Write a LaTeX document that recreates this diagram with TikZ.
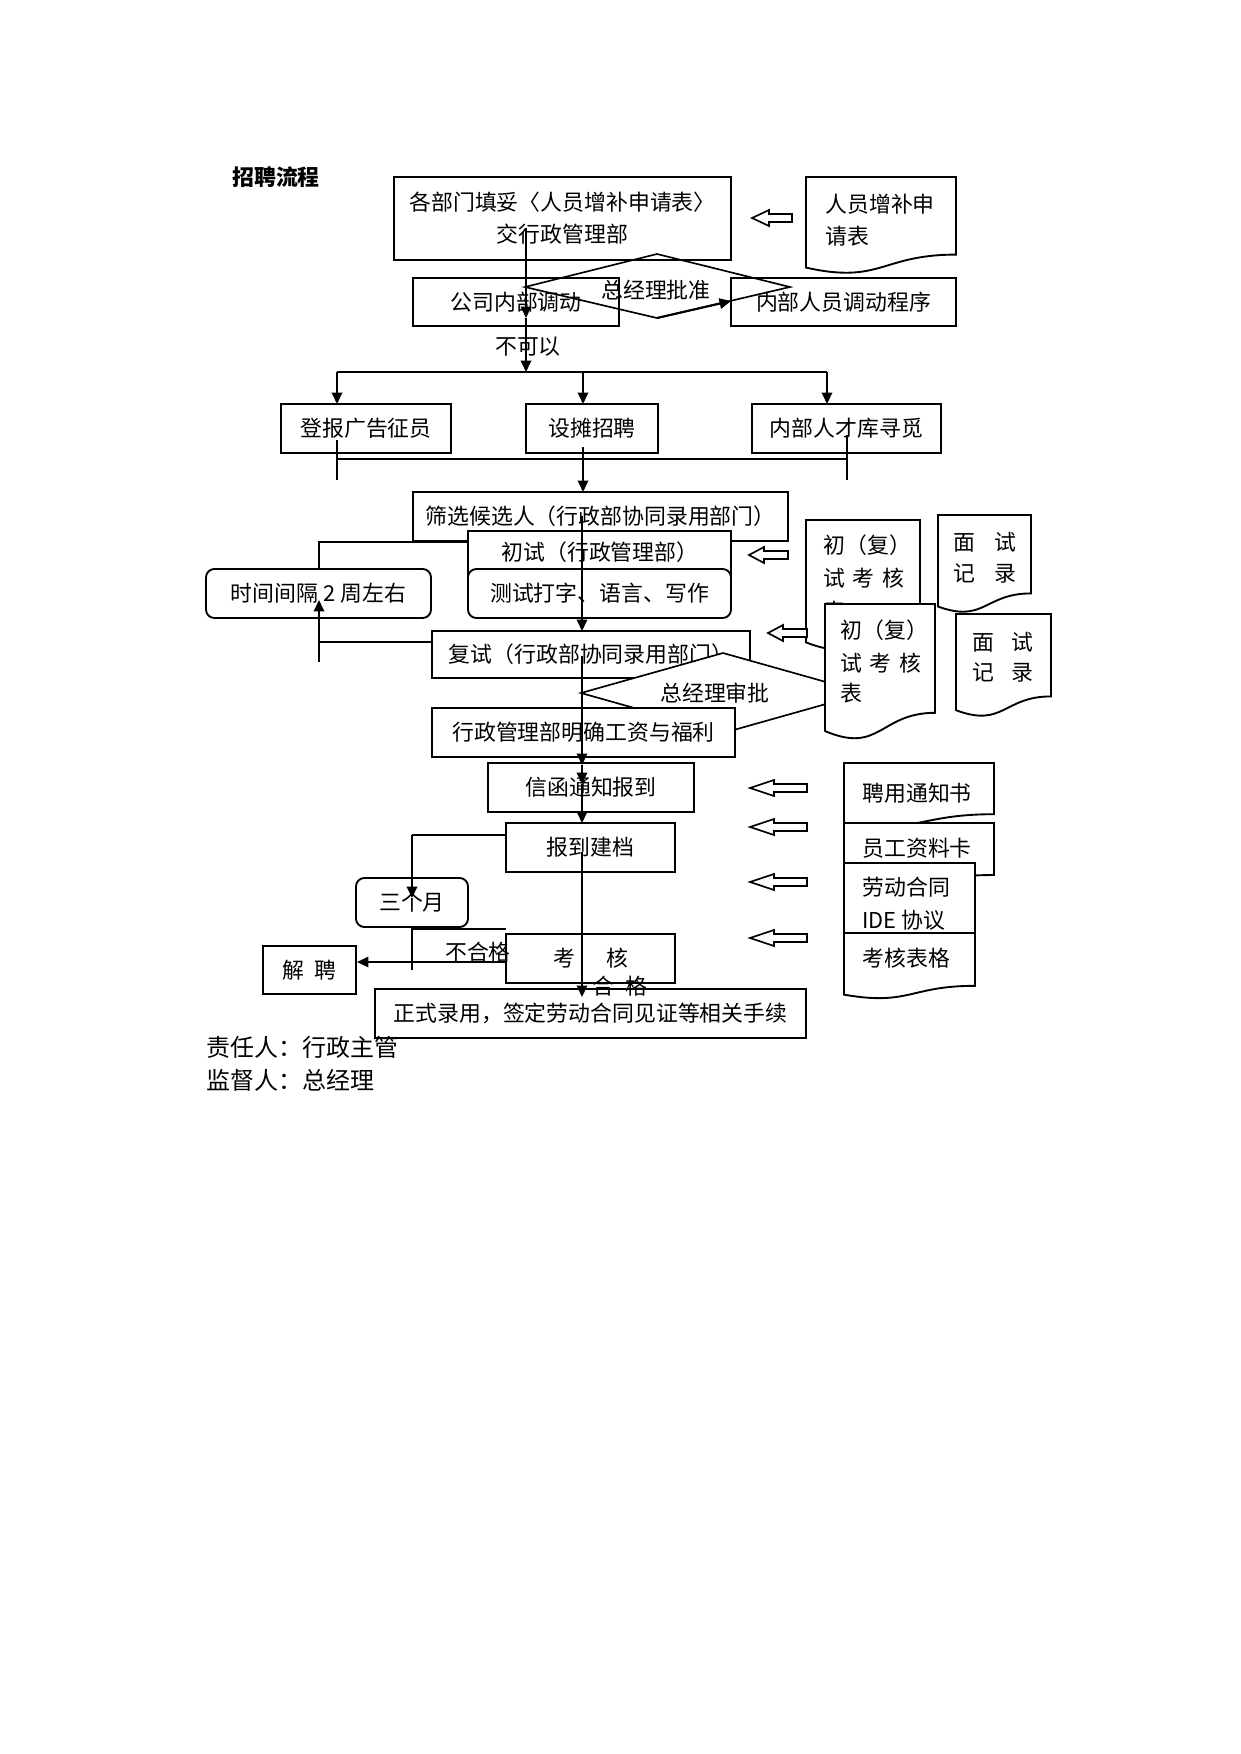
\documentclass[tikz,border=0pt]{standalone}
\usepackage{fontspec}
\setmainfont{Noto Sans CJK SC}
\usetikzlibrary{arrows.meta}
\newcommand\bx[7][bbox]{\node[#1, minimum width={(#5-#3)*0.48pt}, minimum height={(#6-#4)*0.48pt}] (#2) at ({(#3+#5)/2},{(#4+#6)/2}) {#7};}
\newcommand\docshp[4]{\path[docl] (#1,#2) -- (#3,#2) -- (#3,{#2+0.8*#4}) .. controls ({(#1+#3)/2},{#2+0.8*#4}) and ({(#1+#3)/2},{#2+1.107*#4}) .. (#1,{#2+0.934*#4}) -- cycle;}
\newcommand\harr[4]{\path[hol] (#1,#2) -- ({#1+#4},{#2-8}) -- ({#1+#4},{#2-4}) -- (#3,{#2-4}) -- (#3,{#2+4}) -- ({#1+#4},{#2+4}) -- ({#1+#4},{#2+8}) -- cycle;}
\begin{document}
\begin{tikzpicture}[x=0.48pt,y=-0.48pt,
  bbox/.style={draw, line width=0.9pt, fill=white, inner sep=0pt, outer sep=0pt, font=\fontsize{10.5pt}{15.4pt}\selectfont, align=center},
  rbox/.style={bbox, rounded corners=4pt},
  con/.style={line width=1pt, -{Triangle[length=5.5pt,width=5pt]}},
  ln/.style={line width=1pt},
  thinl/.style={line width=0.5pt},
  docl/.style={draw, line width=0.9pt, fill=white},
  hol/.style={draw, line width=0.8pt, fill=white},
  txt/.style={font=\fontsize{10.5pt}{15.4pt}\selectfont, inner sep=0pt},
]
\fill[white] (0,0) rectangle (1241,1754);
\useasboundingbox (0,0) rectangle (1241,1754);

% title
\node[txt, font=\fontsize{10.5pt}{12pt}\selectfont\bfseries] (title) at (276,177) {招聘流程};

% top row
\bx{b1}{394}{177}{731}{260}{各部门填妥〈人员增补申请表〉\\交行政管理部}
\docshp{806}{177}{956}{97}
\node[txt, anchor=west] (d1a) at (825,204) {人员增补申};
\node[txt, anchor=west] (d1b) at (825,236) {请表};
\harr{752}{218}{792}{17}

\bx{gs}{413}{278}{619}{326}{公司内部调动}
\bx{nb}{731}{278}{956}{326}{内部人员调动程序}
\draw[line width=0.8pt] (525,287) -- (657,254) -- (790,287) -- (657,318) -- cycle;
\node[txt] (pz) at (656,290) {总经理批准};
\draw[con] (657,318) -- (731,301);

\node[txt] (bky) at (528,347) {不可以};

% second row
\bx{db}{281}{404}{451}{453}{登报广告征员}
\bx{st}{526}{404}{658}{453}{设摊招聘}
\bx{nr}{752}{404}{941}{453}{内部人才库寻觅}

% screening
\bx{sx}{413}{492}{788}{541}{筛选候选人（行政部协同录用部门）}
\bx{cs}{468}{531}{731}{582}{}
\node[txt] (cst) at (600,552) {初试（行政管理部）};
\bx[rbox]{cd}{468}{569}{731}{618}{测试打字、语言、写作}
\bx[rbox]{sj}{206}{569}{431}{618}{时间间隔 2 周左右}

\bx{fs}{432}{631}{750}{678}{复试（行政部协同录用部门）}
\path[draw, fill=white, line width=0.8pt] (581,693) -- (723,653) -- (865,693) -- (723,733) -- cycle;
\node[txt] (sp) at (715,693) {总经理审批};
\bx{xz}{432}{708}{735}{757}{行政管理部明确工资与福利}

\bx{xh}{488}{763}{694}{812}{信函通知报到}
\bx{bd}{506}{823}{675}{872}{报到建档}
\bx[rbox]{sg}{356}{878}{468}{927}{三个月}
\bx{kh}{506}{934}{675}{983}{考\hspace{15pt}核}
\bx{jp}{263}{946}{356}{994}{解\hspace{5pt}聘}
\bx{zs}{375}{989}{806}{1038}{正式录用，签定劳动合同见证等相关手续}
\node[txt] (bhg) at (478,952) {不合格};
\node[txt] (hg) at (620,986) {合\hspace{5pt}格};

% middle documents
\docshp{806}{520}{920}{131}
\node[txt, anchor=west] (c1a) at (823,545) {初（复）};
\node[txt, anchor=west] (c1b) at (823,578) {试\hspace{3.6pt}考\hspace{3.6pt}核};
\node[txt, anchor=west] (c1c) at (823,611) {表};
\docshp{938}{515}{1031}{98}
\node[txt] (m1a) at (985,542) {面\hspace{9pt}试};
\node[txt] (m1b) at (985,573) {记\hspace{9pt}录};
\docshp{825}{604}{935}{136}
\node[txt, anchor=west] (c2a) at (840,630) {初（复）};
\node[txt, anchor=west] (c2b) at (840,663) {试\hspace{3.6pt}考\hspace{3.6pt}核};
\node[txt, anchor=west] (c2c) at (840,693) {表};
\docshp{956}{614}{1051}{103}
\node[txt] (m2a) at (1003,642) {面\hspace{8pt}试};
\node[txt] (m2b) at (1003,672) {记\hspace{8pt}录};
\harr{749}{555}{788}{15}
\harr{768}{633}{807}{15}

% bottom right documents
\docshp{844}{763}{994}{64}
\node[txt, anchor=west] (p1) at (862,793) {聘用通知书};
\docshp{844}{823}{994}{65}
\node[txt, anchor=west] (p2) at (862,848) {员工资料卡};
\docshp{844}{863}{975}{90}
\node[txt, anchor=west] (p3a) at (862,887) {劳动合同};
\node[txt, anchor=west] (p3b) at (862,920) {IDE 协议};
\docshp{844}{933}{975}{66}
\node[txt, anchor=west] (p4) at (862,958) {考核表格};
\harr{750}{788}{807}{24}
\harr{750}{827}{807}{24}
\harr{750}{882}{807}{24}
\harr{750}{938}{807}{24}

% connectors
\draw[con] (526,228) -- (526,318);
\draw[con] (526,318) -- (526,372);
\draw[ln] (337,372) -- (827,372);
\draw[con] (337,372) -- (337,404);
\draw[con] (583,372) -- (583,404);
\draw[con] (827,372) -- (827,404);
\draw[thinl] (337,440) -- (337,480);
\draw[ln] (847,435) -- (847,480);
\draw[ln] (337,459) -- (847,459);
\draw[ln] (583,447) -- (583,459);
\draw[con] (583,459) -- (583,492);
\draw[con] (582,516) -- (582,631);
\draw[thinl] (468,542) -- (319,542) -- (319,569);
\draw[thinl] (432,642) -- (319,642);
\draw[con] (319,662) -- (319,600);
\draw[con] (582,656) -- (582,765);
\draw[con] (582,765) -- (582,784);
\draw[con] (582,784) -- (582,823);
\draw[ln] (506,835) -- (412,835);
\draw[con] (412,835) -- (412,898);
\draw[thinl] (412,929) -- (506,929);
\draw[ln] (412,928) -- (412,970);
\draw[con] (506,962) -- (357,962);
\draw[con] (582,852) -- (582,997);

% footer
\node[txt, anchor=west, font=\fontsize{11.5pt}{14pt}\selectfont] (fz) at (206,1047) {责任人：行政主管};
\node[txt, anchor=west, font=\fontsize{11.5pt}{14pt}\selectfont] (jd) at (206,1080) {监督人：总经理};
\end{tikzpicture}
\end{document}
